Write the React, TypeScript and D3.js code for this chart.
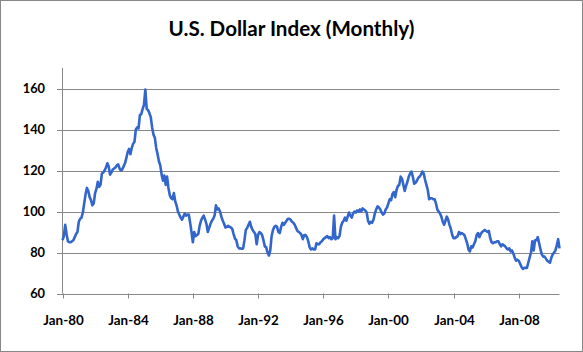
import { useMemo } from 'react';
import * as d3 from 'd3';

// monthly index values, Jan-80 .. Jul-10, one array per year
const y1980 = [86, 88, 93.5, 89, 85.5, 85, 85, 85.5, 86, 87.5, 89, 90];
const y1981 = [95, 96.5, 97, 99.5, 104, 108.5, 111.5, 110, 107, 105.5, 103, 104];
const y1982 = [109, 111, 114.5, 112, 113, 118.5, 119, 120, 121.5, 123.5, 122, 118];
const y1983 = [119, 120.5, 121, 121.5, 122.5, 123, 121, 120, 120.5, 122, 123.5, 126];
const y1984 = [129, 130.5, 128, 131, 133, 134, 140, 141, 140.5, 147, 147.5, 150];
const y1985 = [152, 159.5, 150, 149.5, 148, 146, 141, 137.5, 136, 131, 128, 124.5];
const y1986 = [122.5, 118, 115, 117.5, 113, 117, 111.5, 108, 106.5, 106, 109, 105];
const y1987 = [103, 100, 98.5, 97, 96, 97.5, 99, 98, 98.5, 98.5, 94.5, 90];
const y1988 = [85, 90, 88, 88.5, 89, 93, 95.5, 97, 98, 96, 94, 90];
const y1989 = [92, 94, 95.5, 96.5, 98, 103, 101, 101.5, 100, 97.5, 95.5, 94];
const y1990 = [92.2, 92.5, 93, 92.5, 92.2, 91.5, 89, 86.8, 86, 83, 82, 82];
const y1991 = [81.8, 82, 86, 91, 92, 93.5, 95, 92.5, 91, 90, 89, 84];
const y1992 = [88.5, 90, 89.5, 88.5, 86, 83, 82.5, 80, 78.5, 81, 88, 91];
const y1993 = [92.5, 93, 92.5, 90, 89.5, 92.5, 94.5, 93.5, 94.5, 95.5, 96.5, 96.5];
const y1994 = [96, 95, 94.5, 93.5, 92, 90.5, 90, 89.5, 88.5, 86.5, 88.5, 88.5];
const y1995 = [87.5, 85.5, 82.5, 81.5, 82, 81.5, 81.5, 84.5, 84, 84, 85, 85.5];
const y1996 = [86.5, 87, 87.5, 88, 87, 87.5, 86.5, 87, 98, 86.5, 87.5, 87];
const y1997 = [88, 92.5, 94.5, 95.5, 97, 95.5, 97.5, 99.5, 98, 97, 99, 100];
const y1998 = [99.5, 100.5, 100, 101, 100, 101.5, 101, 100.5, 99.5, 95.5, 94, 95];
const y1999 = [94.5, 96, 99, 101, 102.5, 102, 101, 99.5, 98.5, 99, 101, 102];
const y2000 = [104, 106, 105.5, 108.5, 109.5, 107, 110.5, 112.5, 113, 117, 116, 113];
const y2001 = [110, 112.5, 114.5, 117, 118.5, 119.5, 117, 113.5, 114, 115, 116.5, 117];
const y2002 = [118, 119.5, 118.5, 115.5, 113, 110.5, 106, 106.5, 106.5, 106, 106, 104];
const y2003 = [101, 100, 99, 97.5, 95, 93.5, 95.5, 97.5, 96, 93.5, 91.5, 88.5];
const y2004 = [87, 87, 87.5, 88, 90, 89, 89.5, 89, 88.5, 86.5, 84.5, 81.5];
const y2005 = [80.5, 83, 82.5, 84, 85.5, 88.5, 89.5, 87.5, 89, 90, 90.5, 91];
const y2006 = [90.5, 90, 90.5, 87, 85, 84.5, 85, 85, 85.5, 85.5, 84, 83];
const y2007 = [84, 83.5, 83, 82, 81.5, 82, 80.5, 81, 79.5, 77.5, 76, 76.5];
const y2008 = [76, 74.5, 73, 72, 72.5, 72.5, 72.5, 75, 77.5, 80, 85.5, 81];
const y2009 = [86, 86, 87.5, 84.5, 81.5, 79, 78, 78, 77, 76, 75.5, 75];
const y2010 = [77.5, 79, 80, 81, 83.5, 86.5, 82];

const values = [
  ...y1980, ...y1981, ...y1982, ...y1983, ...y1984, ...y1985, ...y1986, ...y1987,
  ...y1988, ...y1989, ...y1990, ...y1991, ...y1992, ...y1993, ...y1994, ...y1995,
  ...y1996, ...y1997, ...y1998, ...y1999, ...y2000, ...y2001, ...y2002, ...y2003,
  ...y2004, ...y2005, ...y2006, ...y2007, ...y2008, ...y2009, ...y2010,
];

const xTickLabels = ['Jan-80', 'Jan-84', 'Jan-88', 'Jan-92', 'Jan-96', 'Jan-00', 'Jan-04', 'Jan-08'];
const xTickEvery = 48; // months between labels
const yTicks = [60, 80, 100, 120, 140, 160];
const yMax = 170;

const W = 583;
const H = 352;
const FONT = 'Lato, "Open Sans", sans-serif';
const GRID = '#878787';

export default function App() {
  const x = useMemo(() => d3.scaleLinear().domain([0, values.length - 1]).range([62.5, 559.5]), []);
  const y = useMemo(() => d3.scaleLinear().domain([60, yMax]).range([293.5, 68]), []);

  const path = d3
    .line<number>()
    .x((_, i) => x(i))
    .y((d) => y(d))(values);

  const [x0, x1] = x.range();

  return (
    <svg width={W} height={H} style={{ position: 'absolute', left: 0, top: 0 }} fontFamily={FONT}>
      <rect x={0.5} y={0.5} width={W - 1} height={H - 1} fill="#fff" stroke={GRID} />
      <text x={291.5} y={36} textAnchor="middle" fontSize={20.6} fontWeight="bold" fill="#000">
        U.S. Dollar Index (Monthly)
      </text>

      {/* gridlines + y axis ticks */}
      {yTicks.map((t) => (
        <g key={t}>
          <line x1={57} x2={x1} y1={Math.round(y(t)) + 0.5} y2={Math.round(y(t)) + 0.5} stroke={GRID} />
          <text x={45} y={y(t)} dy="0.35em" textAnchor="end" fontSize={12.8} fontWeight="bold" fill="#000">
            {t}
          </text>
        </g>
      ))}
      <line x1={x0} x2={x0} y1={y(yMax)} y2={y(60)} stroke={GRID} />

      {/* x axis ticks */}
      {xTickLabels.map((lab, i) => {
        const px = Math.round(x(i * xTickEvery)) + 0.5;
        return (
          <g key={lab}>
            <line x1={px} x2={px} y1={y(60)} y2={y(60) + 5} stroke={GRID} />
            <text x={px} y={325} textAnchor="middle" fontSize={13.4} fontWeight="bold" fill="#000">
              {lab}
            </text>
          </g>
        );
      })}

      <path d={path ?? ''} fill="none" stroke="#3366cc" strokeWidth={2.6} strokeLinejoin="round" />
    </svg>
  );
}
